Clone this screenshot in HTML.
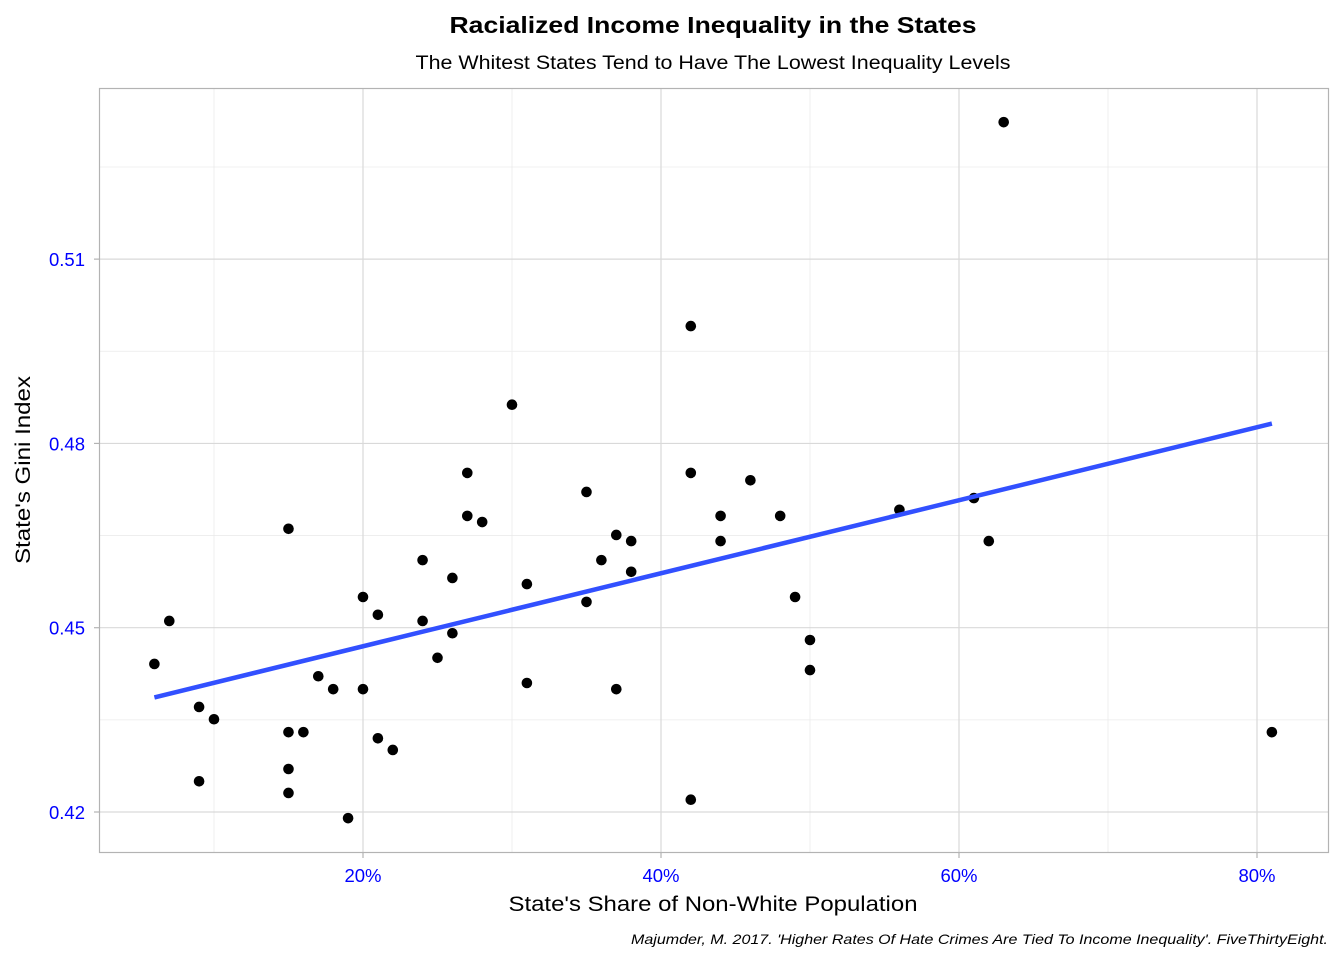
<!DOCTYPE html>
<html><head><meta charset="utf-8"><style>
body{margin:0;background:#fff;}
svg{display:block;font-family:"Liberation Sans",Arial,sans-serif;}
</style></head><body>
<svg id="chart" width="1344" height="960" viewBox="0 0 1344 960">
<text x="713" y="33" text-anchor="middle" font-size="23" font-weight="bold" textLength="527" lengthAdjust="spacingAndGlyphs">Racialized Income Inequality in the States</text>
<text x="713" y="69" text-anchor="middle" font-size="19" textLength="595" lengthAdjust="spacingAndGlyphs">The Whitest States Tend to Have The Lowest Inequality Levels</text>
<g id="grid"></g>
<g id="marks"></g>
<rect x="99.5" y="88.5" width="1229" height="764" fill="none" stroke="#b3b3b3" stroke-width="1.2"/>
<g id="axes"></g>
<text x="713" y="911" text-anchor="middle" font-size="21.5" textLength="409" lengthAdjust="spacingAndGlyphs">State's Share of Non-White Population</text>
<text transform="translate(30,470) rotate(-90)" text-anchor="middle" font-size="21.5" textLength="188" lengthAdjust="spacingAndGlyphs">State's Gini Index</text>
<text x="1328" y="944" text-anchor="end" font-size="14" font-style="italic" textLength="697" lengthAdjust="spacingAndGlyphs">Majumder, M. 2017. 'Higher Rates Of Hate Crimes Are Tied To Income Inequality'. FiveThirtyEight.</text>
</svg>
<script>
const xValues=[6,7,9,10,9,15,15,16,15,15,17,18,19,20,20,21,21,22,24,24,25,26,26,27,27,28,30,31,31,35,35,36,37,37,38,38,42,42,42,44,44,46,48,49,50,50,56,61,62,63,81];
const yValues=[0.4441,0.4511,0.4371,0.4351,0.4250,0.4661,0.4330,0.4330,0.4270,0.4231,0.4421,0.4400,0.4190,0.4550,0.4400,0.4521,0.4320,0.4301,0.4610,0.4511,0.4451,0.4581,0.4491,0.4752,0.4682,0.4672,0.4863,0.4571,0.4410,0.4721,0.4542,0.4610,0.4651,0.4400,0.4641,0.4591,0.4991,0.4752,0.4220,0.4682,0.4641,0.4740,0.4682,0.4550,0.4480,0.4431,0.4692,0.4711,0.4641,0.5323,0.4330];
const xTicks=[20,40,60,80];
const xTickLabels=["20%","40%","60%","80%"];
const xMinor=[10,30,50,70];
const yTicks=[0.42,0.45,0.48,0.51];
const yTickLabels=["0.42","0.45","0.48","0.51"];
const yMinor=[0.435,0.465,0.495,0.525];
const NS="http://www.w3.org/2000/svg";
const X=v=>65+v*14.9;
const Y=v=>812-(v-0.42)*6143;
const L=100,R=1328,T=89,B=852;
function mk(tag,attrs,parent){const e=document.createElementNS(NS,tag);for(const k in attrs)e.setAttribute(k,attrs[k]);parent.appendChild(e);return e;}
const grid=document.getElementById('grid'),marks=document.getElementById('marks'),axes=document.getElementById('axes');
xMinor.forEach(v=>{const e=mk('line',{x1:X(v),x2:X(v),y1:T,y2:B,stroke:'#ebebeb','stroke-width':0.8},grid);

});
yMinor.forEach(v=>{const e=mk('line',{x1:L,x2:R,y1:Y(v),y2:Y(v),stroke:'#ebebeb','stroke-width':0.8},grid);

});
xTicks.forEach((v,i)=>{const e=mk('line',{x1:X(v),x2:X(v),y1:T,y2:B,stroke:'#d9d9d9','stroke-width':1.2},grid);


const t=mk('line',{x1:X(v),x2:X(v),y1:B,y2:B+6,stroke:'#b3b3b3','stroke-width':1.2},axes);


const l=mk('text',{x:X(v),y:882,'text-anchor':'middle','font-size':18.5,fill:'#0000ff'},axes);l.textContent=xTickLabels[i];

});
yTicks.forEach((v,i)=>{const e=mk('line',{x1:L,x2:R,y1:Y(v),y2:Y(v),stroke:'#d9d9d9','stroke-width':1.2},grid);


const t=mk('line',{x1:L-6,x2:L,y1:Y(v),y2:Y(v),stroke:'#b3b3b3','stroke-width':1.2},axes);


const l=mk('text',{x:L-15,y:Y(v)+7,'text-anchor':'end','font-size':18.5,fill:'#0000ff'},axes);l.textContent=yTickLabels[i];

});
xValues.forEach((v,i)=>{const c=mk('circle',{cx:X(v),cy:Y(yValues[i]),r:5.3,fill:'#000'},marks);

});
const n=xValues.length;let mx=0,my=0;xValues.forEach((v,i)=>{mx+=v;my+=yValues[i];});mx/=n;my/=n;
let sxy=0,sxx=0;xValues.forEach((v,i)=>{sxy+=(v-mx)*(yValues[i]-my);sxx+=(v-mx)*(v-mx);});
const b=sxy/sxx,a=my-b*mx;const x0=Math.min(...xValues),x1=Math.max(...xValues);
const ln=mk('line',{x1:X(x0),y1:Y(a+b*x0),x2:X(x1),y2:Y(a+b*x1),stroke:'#3250ff','stroke-width':4.5},marks);


</script>
</body></html>
